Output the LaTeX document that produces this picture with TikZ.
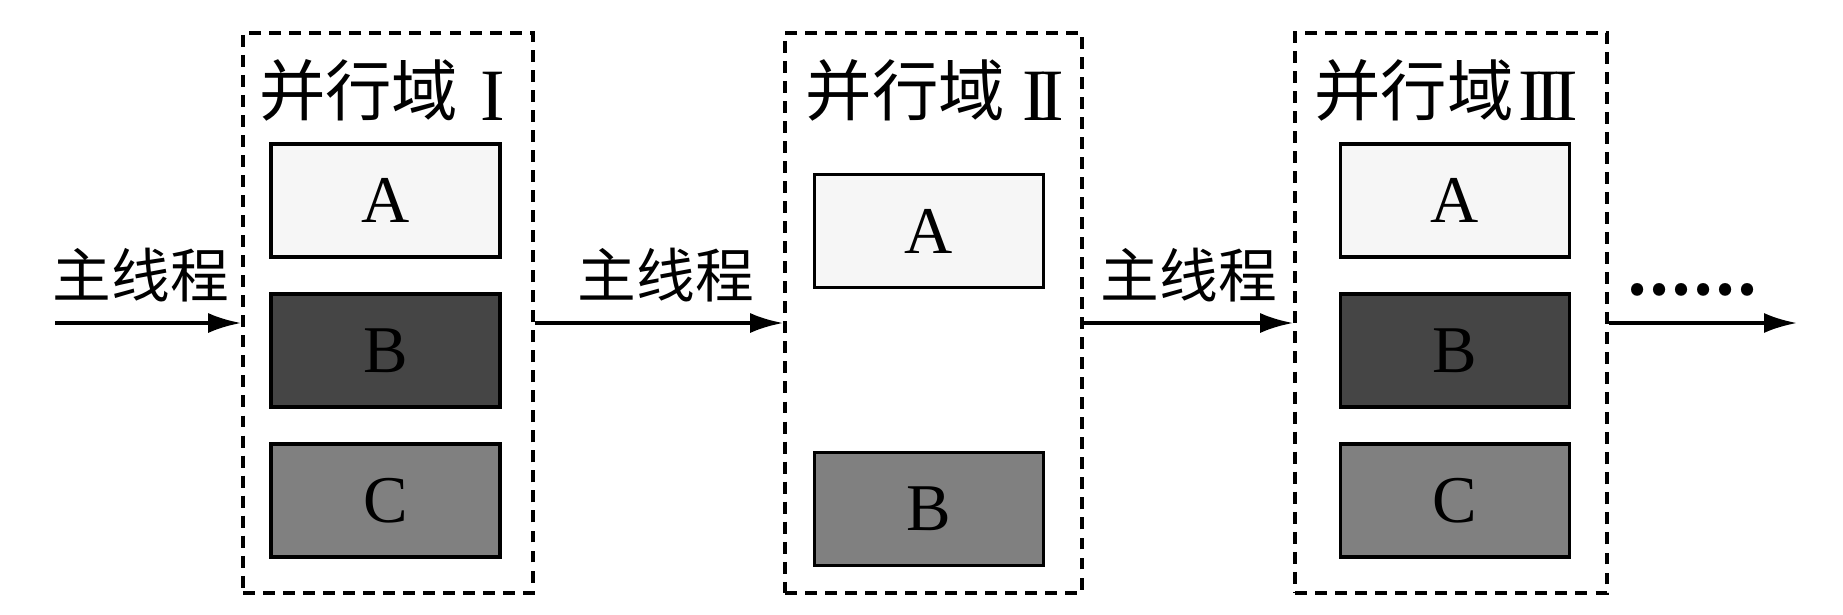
\documentclass[tikz,border=0pt]{standalone}
\usepackage{fontspec}
\setmainfont{Liberation Serif}
\newfontfamily\cjk{Noto Sans CJK SC}
\usetikzlibrary{arrows.meta}
\definecolor{fillA}{gray}{0.965}
\definecolor{fillB}{gray}{0.27}
\definecolor{fillC}{gray}{0.50}
\newcommand{\romannum}[1]{\raisebox{-1.6pt}{\rmfamily\fontsize{21}{21}\selectfont #1}}

\begin{document}
\begin{tikzpicture}[
  pardomain/.style={draw,dash pattern=on 3.4pt off 2.3pt,line width=1.05pt,minimum height=5.6cm},
  task/.style={draw,line width=1.1pt,minimum width=2.29cm,minimum height=1.13cm,font=\fontsize{19}{19}\selectfont},
  title/.style={font=\cjk\fontsize{18.9}{19}\selectfont,inner sep=0pt},
  thread/.style={font=\cjk\fontsize{16.7}{17}\selectfont},
  flow/.style={line width=1.05pt,-{Latex[length=.33cm,width=.2cm]}}]
  \useasboundingbox (0,0) rectangle (18.43,6.14);
  % parallel domains
  \node[pardomain,minimum width=2.9cm] (d1) at (3.88,3.01) {};
  \node[pardomain,minimum width=2.97cm] (d2) at (9.335,3.01) {};
  \node[pardomain,minimum width=3.12cm] (d3) at (14.51,3.01) {};
  \node[title] (t1) at (3.82,5.24) {并行域\kern.22cm\romannum{I}};
  \node[title] (t2) at (9.35,5.24) {并行域\kern.17cm\romannum{I\kern-.1em I}};
  \node[title] (t3) at (14.46,5.24) {并行域\kern.05cm\romannum{I\kern-.1em I\kern-.1em I}};
  % tasks
  \node[task,fill=fillA] (a1) at (3.855,4.135) {A};
  \node[task,fill=fillB] (b1) at (3.855,2.635) {B};
  \node[task,fill=fillC] (c1) at (3.855,1.135) {C};
  \node[task,fill=fillA] (a2) at (9.29,3.83) {A};
  \node[task,fill=fillC] (b2) at (9.29,1.05) {B};
  \node[task,fill=fillA] (a3) at (14.55,4.135) {A};
  \node[task,fill=fillB] (b3) at (14.55,2.635) {B};
  \node[task,fill=fillC] (c3) at (14.55,1.135) {C};
  % main thread
  \coordinate (in) at (0.55,2.91);
  \coordinate (out) at (17.97,2.91);
  \draw[flow] (in) -- (d1.west |- in);
  \draw[flow] (d1.east |- in) -- (d2.west |- in);
  \draw[flow] (d2.east |- in) -- (d3.west |- in);
  \draw[flow] (d3.east |- in) -- (out);
  \node[thread] (m1) at (1.41,3.385) {主线程};
  \node[thread] (m2) at (6.66,3.385) {主线程};
  \node[thread] (m3) at (11.89,3.385) {主线程};
  \node[font=\cjk\bfseries\fontsize{16.5}{17}\selectfont] (more) at (16.92,3.24) {……};
\end{tikzpicture}
\end{document}
